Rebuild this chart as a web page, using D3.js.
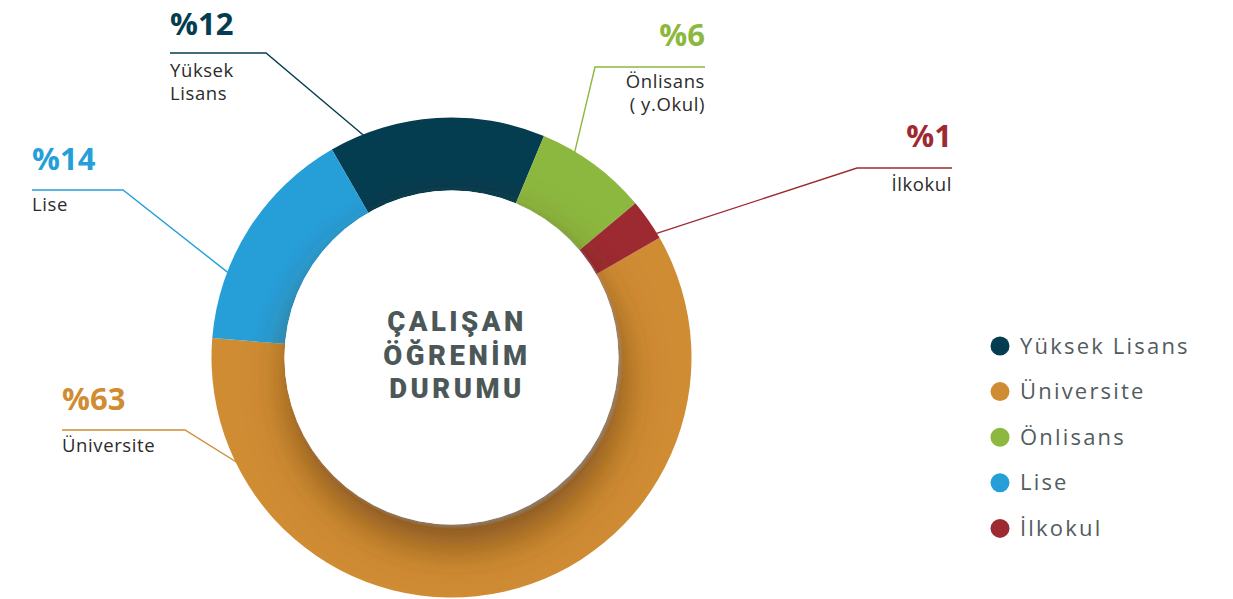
<!DOCTYPE html>
<html lang="tr">
<head>
<meta charset="utf-8">
<title>Çalışan Öğrenim Durumu</title>
<script src="https://d3js.org/d3.v7.min.js"></script>
<style>
  html, body { margin: 0; padding: 0; background: #ffffff; }
  svg { display: block; }
  text { font-family: "Open Sans", "Noto Sans", Arial, sans-serif; }
</style>
</head>
<body>
<div id="chart"></div>
<script>
// Data
const categories = ["Yüksek Lisans", "Üniversite", "Önlisans", "Lise", "İlkokul"];
const percentLabels = ["%12", "%63", "%6", "%14", "%1"];
// share of the ring each slice covers, as drawn in the picture
const sliceShares = [14.6, 59.6, 7.6, 15.4, 2.8];
const calloutNames = [["Yüksek", "Lisans"], ["Üniversite"], ["Önlisans", "( y.Okul)"], ["Lise"], ["İlkokul"]];
const ringOrder = ["Yüksek Lisans", "Önlisans", "İlkokul", "Üniversite", "Lise"];
const colors = ["#053d50", "#d08c33", "#8cb83f", "#269fd9", "#9e2a31"];
const titleLines = ["ÇALIŞAN", "ÖĞRENİM", "DURUMU"];

// Dimensions
const width = 1233;
const height = 599;
const cx = 451.5, cy = 357.5;
const outerR = 240, innerR = 167;
const startDeg = -29.9;

const rad = d => d * Math.PI / 180;

const svg = d3.select("#chart").append("svg")
  .attr("width", width)
  .attr("height", height)
  .attr("viewBox", `0 0 ${width} ${height}`);

const defs = svg.append("defs");
const shadow = defs.append("filter")
  .attr("id", "inner-shadow")
  .attr("x", "-40%").attr("y", "-40%")
  .attr("width", "180%").attr("height", "180%");
shadow.append("feDropShadow")
  .attr("dx", 4).attr("dy", 22)
  .attr("stdDeviation", 20)
  .attr("flood-color", "#5a3608")
  .attr("flood-opacity", 0.65)
  .attr("result", "soft");
shadow.append("feDropShadow")
  .attr("in", "SourceGraphic")
  .attr("dx", 2).attr("dy", 2)
  .attr("stdDeviation", 1.5)
  .attr("flood-color", "#8a8a8a")
  .attr("flood-opacity", 0.6)
  .attr("result", "edge");
const merge = shadow.append("feMerge");
merge.append("feMergeNode").attr("in", "soft");
merge.append("feMergeNode").attr("in", "edge");

const color = d3.scaleOrdinal().domain(categories).range(colors);

const rows = categories.map((c, i) => ({
  name: c, share: sliceShares[i], pct: percentLabels[i], lines: calloutNames[i]
}));

const pie = d3.pie()
  .value(d => d.share)
  .sort((a, b) => ringOrder.indexOf(a.name) - ringOrder.indexOf(b.name))
  .startAngle(rad(startDeg))
  .endAngle(rad(startDeg) + 2 * Math.PI);

const arc = d3.arc().innerRadius(innerR - 2).outerRadius(outerR);

const g = svg.append("g").attr("transform", `translate(${cx},${cy})`);

// keep the shadow on the ring only
defs.append("clipPath").attr("id", "ring-clip")
  .append("circle").attr("r", outerR);

g.selectAll("path.slice")
  .data(pie(rows))
  .join("path")
  .attr("class", "slice")
  .attr("d", arc)
  .attr("fill", d => color(d.data.name));

// white centre with its shadow
g.append("g").attr("clip-path", "url(#ring-clip)")
  .append("circle")
  .attr("r", innerR)
  .attr("fill", "#ffffff")
  .attr("filter", "url(#inner-shadow)");

g.selectAll("text.title")
  .data(titleLines)
  .join("text")
  .attr("class", "title")
  .attr("x", 5.5)
  .attr("y", (d, i) => -26.5 + i * 33.5)
  .attr("text-anchor", "middle")
  .attr("fill", "#4c5858")
  .style("font-family", "Roboto, 'Open Sans', sans-serif")
  .style("font-size", "27.5px")
  .style("font-weight", 900)
  .style("letter-spacing", "3.5px")
  .text(d => d);

// Callouts (layout only)
const callouts = {
  "Yüksek Lisans": { angle: -21.6, bend: [266, 53], end: 170, anchor: "start", pctY: 35, textY: 77 },
  "Önlisans":      { angle: 31,    bend: [595, 67], end: 705, anchor: "end",   pctY: 46, textY: 88 },
  "İlkokul":       { angle: 58.8,  bend: [857, 168], end: 952, anchor: "end",  pctY: 147, textY: 191 },
  "Lise":          { angle: -69.2, bend: [123, 190], end: 32, anchor: "start", pctY: 170, textY: 211 },
  "Üniversite":    { angle: 244,   bend: [185, 430], end: 62, anchor: "start", pctY: 410, textY: 452 }
};

const labels = svg.append("g").attr("class", "callouts");

rows.forEach(d => {
  const c = callouts[d.name];
  const p = d3.pointRadial(rad(c.angle), outerR - 1);
  const tip = [cx + p[0], cy + p[1]];
  labels.append("polyline")
    .attr("points", [tip, c.bend, [c.end, c.bend[1]]].map(q => q.join(",")).join(" "))
    .attr("fill", "none")
    .attr("stroke", color(d.name))
    .attr("stroke-width", 1.4);
  labels.append("text")
    .attr("x", c.end)
    .attr("y", c.pctY)
    .attr("text-anchor", c.anchor)
    .attr("fill", color(d.name))
    .style("font-size", "31px")
    .style("font-weight", 700)
    .text(d.pct);
  labels.append("text")
    .attr("x", c.end)
    .attr("y", c.textY)
    .attr("text-anchor", c.anchor)
    .attr("fill", "#2b2b2b")
    .style("font-size", "18.5px")
    .style("letter-spacing", "0.6px")
    .selectAll("tspan")
    .data(d.lines)
    .join("tspan")
    .attr("x", c.end)
    .attr("dy", (t, i) => i === 0 ? 0 : 23)
    .text(t => t);
});

// Legend
const legend = svg.append("g")
  .attr("class", "legend")
  .attr("transform", "translate(1000,346)");

const item = legend.selectAll("g")
  .data(categories)
  .join("g")
  .attr("transform", (d, i) => `translate(0,${i * 45.6})`);

item.append("circle")
  .attr("r", 9.5)
  .attr("fill", d => color(d));

item.append("text")
  .attr("x", 20)
  .attr("y", 7.5)
  .attr("fill", "#525c5e")
  .style("font-size", "22px")
  .style("letter-spacing", "2.2px")
  .text(d => d);
</script>
</body>
</html>
